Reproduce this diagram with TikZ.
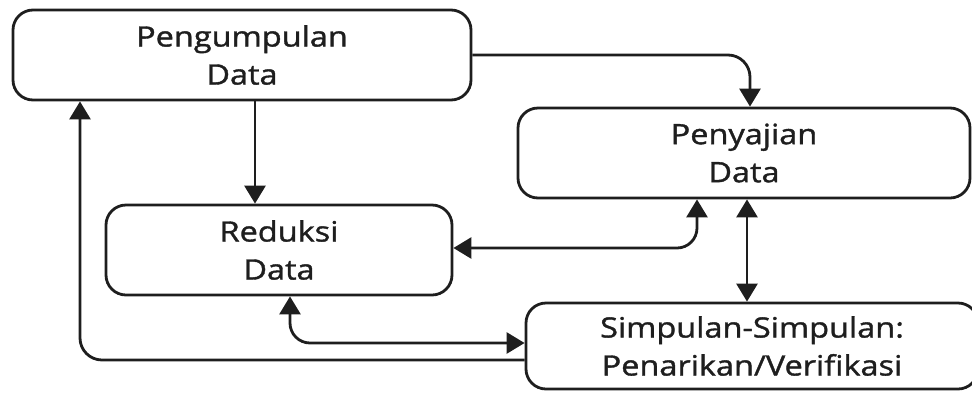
\documentclass[tikz,border=0pt]{standalone}
\usepackage{fontspec}
\setmainfont[FakeStretch=1.16,FakeBold=1.3]{Open Sans}
\usetikzlibrary{arrows.meta}
\definecolor{ink}{HTML}{1E1E1E}
\begin{document}
\begin{tikzpicture}[x=1pt,y=-1pt,
  box/.style={draw=ink, line width=2.8pt, rounded corners=20pt, align=center,
    text=ink, font=\fontsize{28}{38}\selectfont, inner sep=0pt},
  conn/.style={draw=ink, line width=2.8pt, -{Triangle[length=18pt,width=21pt]}},
  dconn/.style={draw=ink, line width=2.8pt, {Triangle[length=18pt,width=21pt]}-{Triangle[length=18pt,width=21pt]}}]
\useasboundingbox (0,0) rectangle (972,392);
\node[box, minimum width=458pt, minimum height=90pt] (b1) at (242,55) {Pengumpulan\\Data};
\node[box, minimum width=452pt, minimum height=90pt] (b2) at (744,153) {Penyajian\\Data};
\node[box, minimum width=346pt, minimum height=90pt] (b3) at (279,250) {Reduksi\\Data};
\node[box, minimum width=452pt, minimum height=86pt] (b4) at (752,346) {Simpulan-Simpulan:\\Penarikan/Verifikasi};
\draw[conn, rounded corners=22pt] (b1.east) -| (b2.north -| 750,0);
\draw[conn] (b1.south -| 255,0) -- (b3.north -| 255,0);
\draw[conn, rounded corners=22pt] (b4.west |- 0,360) -| (b1.south -| 80,0);
\draw[dconn, rounded corners=20pt] (b3.south -| 290,0) |- (b4.west |- 0,343);
\draw[dconn, rounded corners=20pt] (b3.east |- 0,248) -| (b2.south -| 697,0);
\draw[dconn] (b2.south -| 747,0) -- (b4.north -| 747,0);
\end{tikzpicture}
\end{document}
